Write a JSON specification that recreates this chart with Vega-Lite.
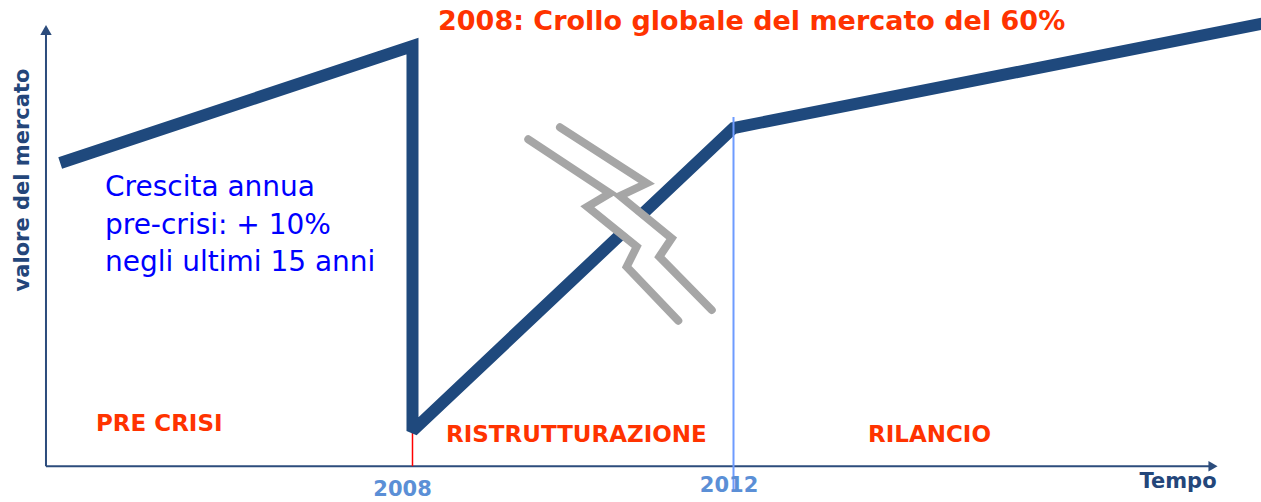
{
  "$schema": "https://vega.github.io/schema/vega-lite/v6.json",
  "width": 1261,
  "height": 502,
  "padding": 0,
  "autosize": {"type": "none"},
  "background": "white",
  "config": {"view": {"stroke": null}},
  "datasets": {
    "asse_y": [{"anno": 2003.433, "valore": 0, "valore2": 96.86}],
    "asse_x": [{"anno": 2003.433, "anno2": 2017.938, "valore": 0}],
    "freccia_y": [{"anno": 2003.433, "valore": 97.31}],
    "freccia_x": [{"anno": 2017.975, "valore": 0}],
    "crollo": [{"anno": 2008, "valore": 0, "valore2": 7.62}],
    "mercato": [
      {"ordine": 1, "anno": 2003.61, "valore": 67.63},
      {"ordine": 2, "anno": 2008, "valore": 93.74},
      {"ordine": 3, "anno": 2008, "valore": 7.84},
      {"ordine": 4, "anno": 2012, "valore": 75.44},
      {"ordine": 5, "anno": 2018.8, "valore": 99.45}
    ],
    "interruzione_fondo": [
      {"ordine": 1, "anno": 2009.641, "valore": 74.26},
      {"ordine": 2, "anno": 2010.689, "valore": 61.99},
      {"ordine": 3, "anno": 2010.383, "valore": 59.09},
      {"ordine": 4, "anno": 2011.012, "valore": 49.90},
      {"ordine": 5, "anno": 2010.872, "valore": 45.61},
      {"ordine": 6, "anno": 2011.520, "valore": 33.65}
    ],
    "interruzione": [
      {"tratto": "sinistro", "ordine": 1, "anno": 2009.443, "valore": 72.92},
      {"tratto": "sinistro", "ordine": 2, "anno": 2010.461, "valore": 60.87},
      {"tratto": "sinistro", "ordine": 3, "anno": 2010.178, "valore": 57.88},
      {"tratto": "sinistro", "ordine": 4, "anno": 2010.794, "valore": 48.96},
      {"tratto": "sinistro", "ordine": 5, "anno": 2010.669, "valore": 44.50},
      {"tratto": "sinistro", "ordine": 6, "anno": 2011.312, "valore": 32.45},
      {"tratto": "destro", "ordine": 1, "anno": 2009.838, "valore": 75.60},
      {"tratto": "destro", "ordine": 2, "anno": 2010.919, "valore": 63.10},
      {"tratto": "destro", "ordine": 3, "anno": 2010.586, "valore": 60.27},
      {"tratto": "destro", "ordine": 4, "anno": 2011.230, "valore": 50.83},
      {"tratto": "destro", "ordine": 5, "anno": 2011.076, "valore": 46.73},
      {"tratto": "destro", "ordine": 6, "anno": 2011.729, "valore": 34.84}
    ],
    "fase_2012": [{"anno": 2012, "valore": -5.32, "valore2": 77.9}],
    "titolo": [{"anno": 2008.318, "valore": 99.09, "testo": "2008: Crollo globale del mercato del 60%"}],
    "fasi": [
      {"anno": 2004.056, "valore": 9.40, "testo": "PRE CRISI"},
      {"anno": 2008.418, "valore": 6.95, "testo": "RISTRUTTURAZIONE"},
      {"anno": 2013.676, "valore": 6.95, "testo": "RILANCIO"}
    ],
    "nota": [
      {"anno": 2004.168, "valore": 62.06, "testo": "Crescita annua"},
      {"anno": 2004.168, "valore": 53.58, "testo": "pre-crisi: + 10%"},
      {"anno": 2004.168, "valore": 45.32, "testo": "negli ultimi 15 anni"}
    ],
    "anni": [
      {"anno": 2007.876, "valore": -5.32, "testo": "2008"},
      {"anno": 2011.944, "valore": -4.43, "testo": "2012"}
    ],
    "tempo": [{"anno": 2017.539, "valore": -3.54, "testo": "Tempo"}],
    "asse_titolo": [{"anno": 2003.147, "valore": 63.84, "testo": "valore del mercato"}]
  },
  "encoding": {
    "x": {"field": "anno", "type": "quantitative", "scale": {"domain": [2002.86, 2018.573], "nice": false, "zero": false}, "axis": null},
    "y": {"field": "valore", "type": "quantitative", "scale": {"domain": [-8, 104], "nice": false, "zero": false}, "axis": null}
  },
  "layer": [
    {"data": {"name": "asse_y"}, "mark": {"type": "rule", "color": "#2c4c7c", "strokeWidth": 2}, "encoding": {"y2": {"field": "valore2"}}},
    {"data": {"name": "asse_x"}, "mark": {"type": "rule", "color": "#2c4c7c", "strokeWidth": 2}, "encoding": {"x2": {"field": "anno2"}}},
    {"data": {"name": "freccia_y"}, "mark": {"type": "point", "shape": "triangle-up", "filled": true, "color": "#2c4c7c", "size": 130, "opacity": 1, "strokeWidth": 0}},
    {"data": {"name": "freccia_x"}, "mark": {"type": "point", "shape": "triangle-right", "filled": true, "color": "#2c4c7c", "size": 110, "opacity": 1, "strokeWidth": 0}},
    {"data": {"name": "crollo"}, "mark": {"type": "rule", "color": "#ff0000", "strokeWidth": 1.5}, "encoding": {"y2": {"field": "valore2"}}},
    {"data": {"name": "mercato"}, "mark": {"type": "line", "color": "#1f497d", "strokeWidth": 12, "strokeJoin": "miter", "strokeMiterLimit": 2, "strokeCap": "butt", "clip": true}, "encoding": {"order": {"field": "ordine"}}},
    {"data": {"name": "interruzione_fondo"}, "mark": {"type": "line", "color": "white", "strokeWidth": 22, "strokeJoin": "bevel", "strokeCap": "butt"}, "encoding": {"order": {"field": "ordine"}}},
    {"data": {"name": "interruzione"}, "mark": {"type": "line", "color": "#a6a6a6", "strokeWidth": 8, "strokeJoin": "miter", "strokeCap": "round"}, "encoding": {"order": {"field": "ordine"}, "detail": {"field": "tratto"}}},
    {"data": {"name": "fase_2012"}, "mark": {"type": "rule", "color": "#6e9bff", "strokeWidth": 2}, "encoding": {"y2": {"field": "valore2"}}},
    {"data": {"name": "titolo"}, "mark": {"type": "text", "align": "left", "baseline": "middle", "font": "DejaVu Sans", "fontWeight": "bold", "fontSize": 27, "color": "#ff3300"}, "encoding": {"text": {"field": "testo"}}},
    {"data": {"name": "fasi"}, "mark": {"type": "text", "align": "left", "baseline": "middle", "font": "DejaVu Sans", "fontWeight": "bold", "fontSize": 23, "color": "#ff3300"}, "encoding": {"text": {"field": "testo"}}},
    {"data": {"name": "nota"}, "mark": {"type": "text", "align": "left", "baseline": "middle", "font": "DejaVu Sans", "fontSize": 28, "color": "#0000ff"}, "encoding": {"text": {"field": "testo"}}},
    {"data": {"name": "anni"}, "mark": {"type": "text", "align": "center", "baseline": "middle", "font": "DejaVu Sans", "fontWeight": "bold", "fontSize": 21, "color": "#5b8fd6"}, "encoding": {"text": {"field": "testo"}}},
    {"data": {"name": "tempo"}, "mark": {"type": "text", "align": "center", "baseline": "middle", "font": "DejaVu Sans", "fontWeight": "bold", "fontSize": 21, "color": "#23467a"}, "encoding": {"text": {"field": "testo"}}},
    {"data": {"name": "asse_titolo"}, "mark": {"type": "text", "align": "center", "baseline": "middle", "angle": 270, "font": "DejaVu Sans", "fontWeight": "bold", "fontSize": 21, "color": "#23467a"}, "encoding": {"text": {"field": "testo"}}}
  ]
}
